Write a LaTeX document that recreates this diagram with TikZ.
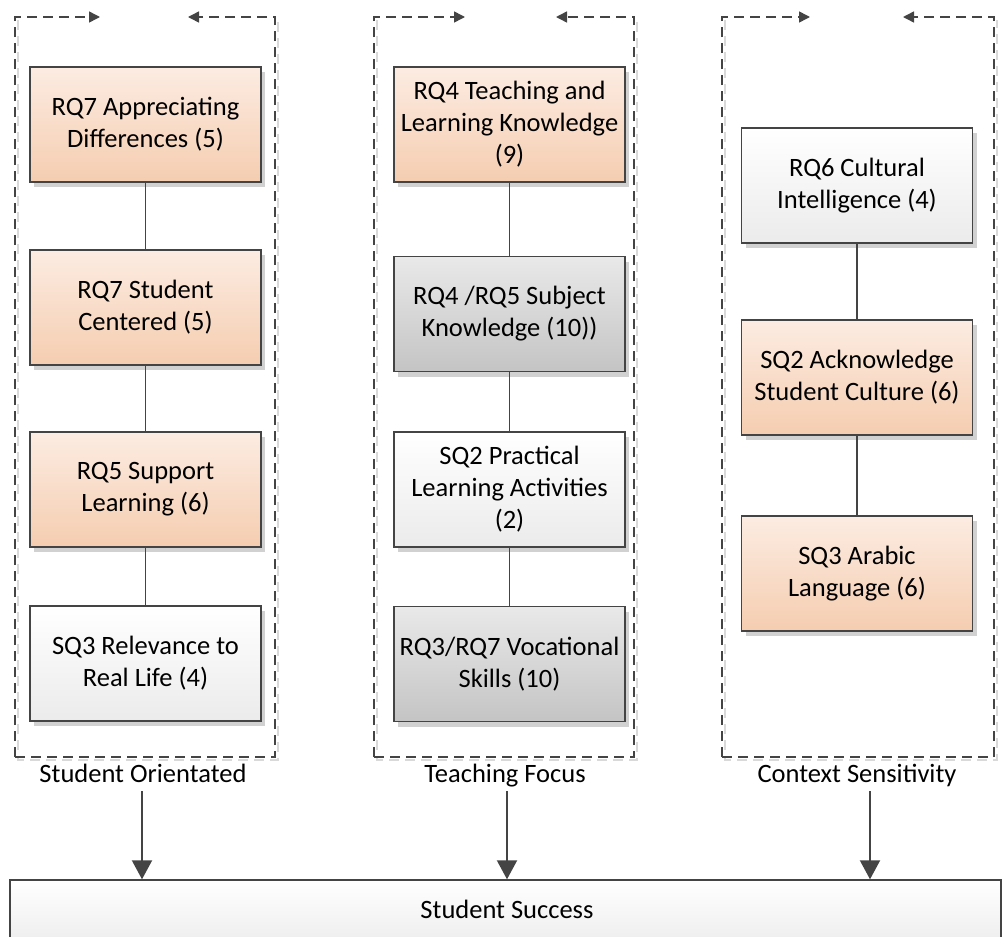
\documentclass[tikz,border=0pt]{standalone}
\usepackage{fontspec}
\setmainfont{Carlito}
\usetikzlibrary{arrows.meta,shadows}
\definecolor{peachtop}{HTML}{FCECE2}
\definecolor{peachbot}{HTML}{F5CDB0}
\definecolor{greytop}{HTML}{E9E9E9}
\definecolor{greybot}{HTML}{C4C4C4}
\definecolor{plainbot}{HTML}{EBEBEB}
\definecolor{inkgrey}{HTML}{444444}
\begin{document}
\begin{tikzpicture}[x=1pt,y=-1pt,
  box/.style={draw=inkgrey,line width=1.4pt,minimum width=231pt,minimum height=115pt,
    align=center,inner sep=2pt,font=\fontsize{26.5}{32}\selectfont,
    drop shadow={shadow xshift=4pt,shadow yshift=-5pt,opacity=0.18,fill=black}},
  peach/.style={box,top color=peachtop,bottom color=peachbot},
  greybox/.style={box,top color=greytop,bottom color=greybot},
  plain/.style={box,top color=white,bottom color=plainbot},
  link/.style={draw=inkgrey,line width=1.3pt},
  frameline/.style={draw=inkgrey,line width=1.5pt,dash pattern=on 10pt off 6pt},
  frameshade/.style={draw=black!15,line width=1.4pt,dash pattern=on 10pt off 6pt},
  framehead/.style={-{Triangle[width=11pt,length=11pt]}},
  grouplabel/.style={font=\fontsize{26.5}{32}\selectfont,inner sep=0pt,text height=18pt,text depth=6pt},
  flow/.style={draw=inkgrey,line width=2pt,-{Triangle[width=20pt,length=19pt]}}
]
\path[use as bounding box,clip] (0,0) rectangle (1002,937);

% dashed group frames, each opened by two inward arrows on top
\foreach \l/\r/\la/\ra in {15/275/100/188, 374/634/465/556, 722/994/810/903}{
  \draw[frameshade] (\l+3,20) -- (\l+3,760) -- (\r+3,760) -- (\r+3,20);
  \draw[frameline,framehead] (\l,757) -- (\l,17) -- (\la,17);
  \draw[frameline,framehead] (\l,757) -- (\r,757) -- (\r,17) -- (\ra,17);
}

% Student Orientated
\node[peach] (a1) at (145.5,124.5) {RQ7 Appreciating\\Differences (5)};
\node[peach] (a2) at (145.5,307.5) {RQ7 Student\\Centered (5)};
\node[peach] (a3) at (145.5,489.5) {RQ5 Support\\Learning (6)};
\node[plain] (a4) at (145.5,663.5) {SQ3 Relevance to\\Real Life (4)};

% Teaching Focus
\node[peach] (b1) at (509.5,124.5) {RQ4 Teaching and\\Learning Knowledge\\(9)};
\node[greybox] (b2) at (509.5,314) {RQ4 /RQ5 Subject\\Knowledge (10))};
\node[plain] (b3) at (509.5,489.5) {SQ2 Practical\\Learning Activities\\(2)};
\node[greybox] (b4) at (509.5,664) {RQ3/RQ7 Vocational\\Skills (10)};

% Context Sensitivity
\node[plain] (c1) at (857,185.5) {RQ6 Cultural\\Intelligence (4)};
\node[peach] (c2) at (857,377.5) {SQ2 Acknowledge\\Student Culture (6)};
\node[peach] (c3) at (857,573.5) {SQ3 Arabic\\Language (6)};

\draw[link] (a1) -- (a2) (a2) -- (a3) (a3) -- (a4);
\draw[link] (b1) -- (b2) (b2) -- (b3) (b3) -- (b4);
\draw[link] (c1) -- (c2) (c2) -- (c3);

% group names
\node[grouplabel] (la) at (143,776) {Student Orientated};
\node[grouplabel] (lb) at (505,776) {Teaching Focus};
\node[grouplabel] (lc) at (857,776) {Context Sensitivity};

% outcome
\node[plain,minimum width=991pt,minimum height=72pt,drop shadow={opacity=0}] (succ) at (505.5,916) {};
\node[grouplabel] (succtext) at (507,912) {Student Success};

\coordinate (xa) at (142,0);
\coordinate (xb) at (507,0);
\coordinate (xc) at (870,0);
\draw[flow] (la.south -| xa) ++(0,3) -- (succ.north -| xa);
\draw[flow] (lb.south -| xb) ++(0,3) -- (succ.north -| xb);
\draw[flow] (lc.south -| xc) ++(0,3) -- (succ.north -| xc);
\end{tikzpicture}
\end{document}
